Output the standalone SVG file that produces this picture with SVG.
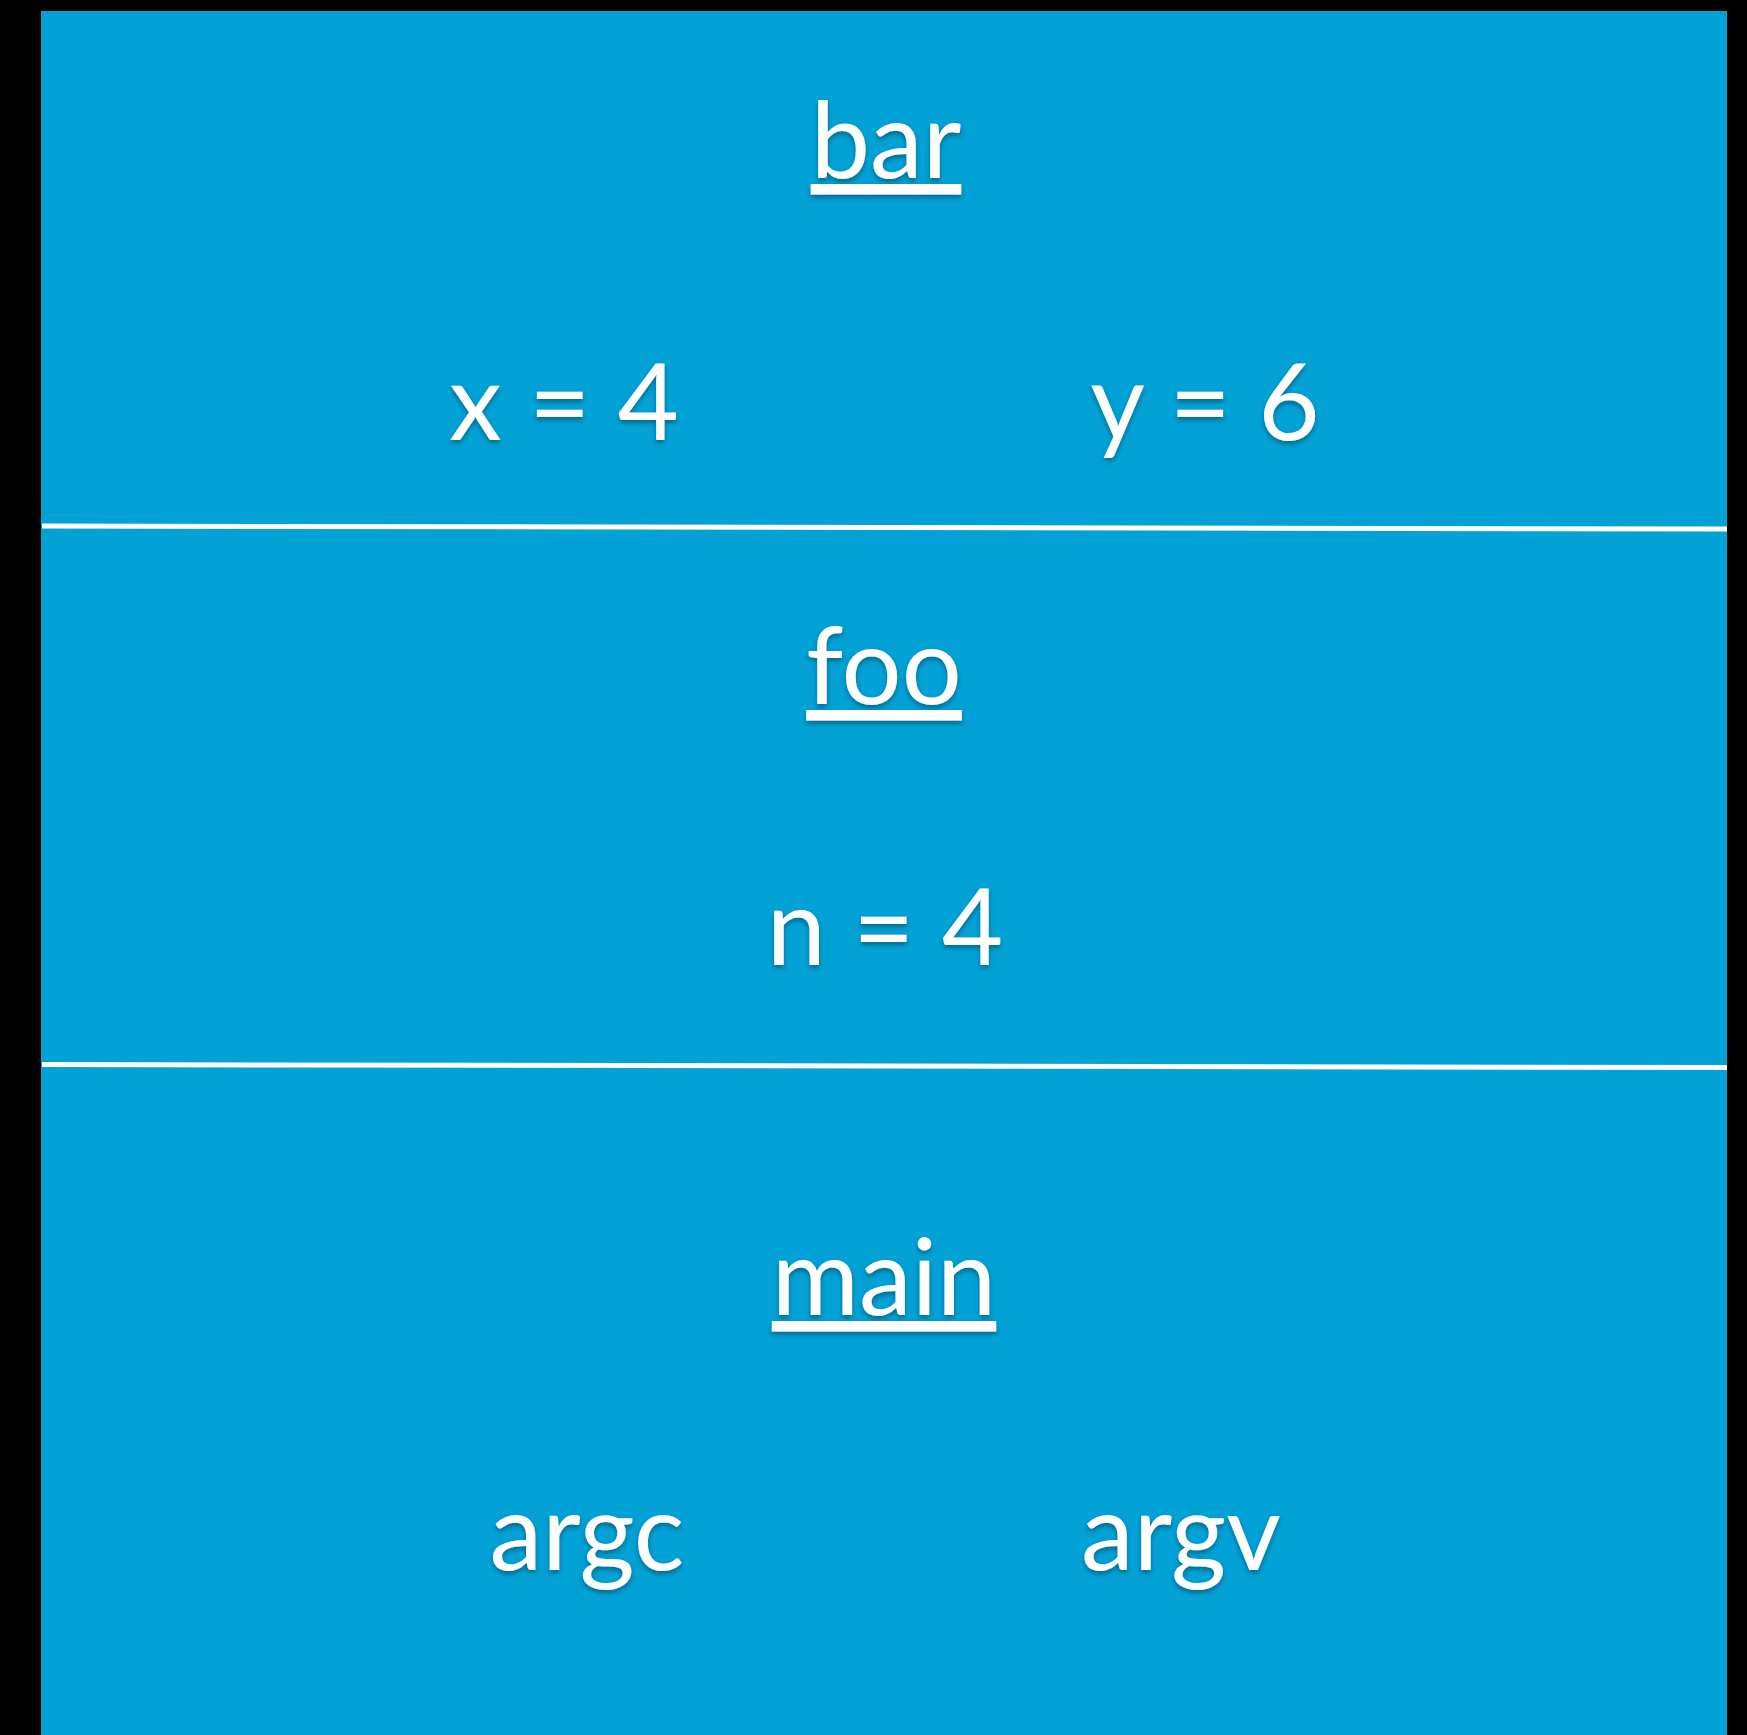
<svg xmlns="http://www.w3.org/2000/svg" width="1747" height="1735" viewBox="0 0 1747 1735">
<defs>
<style>
.t{font-family:"Lato","Open Sans","Liberation Sans",sans-serif;font-size:106px;fill:#ffffff;text-anchor:middle;filter:url(#sh)}
.u{text-decoration:underline}
.sep{stroke:#ffffff;stroke-width:5;fill:none}
</style>
<filter id="sh" x="-10%" y="-10%" width="120%" height="130%">
<feDropShadow dx="0" dy="3" stdDeviation="2.5" flood-color="#000000" flood-opacity="0.35"/>
</filter>
</defs>
<rect x="0" y="0" width="1747" height="1735" fill="#000000"/>
<rect x="41" y="11" width="1686" height="1724" fill="#02A1D6"/>
<g id="connectors">
<line class="sep" x1="42" y1="526" x2="1727" y2="529"/>
<line class="sep" x1="42" y1="1064.5" x2="1727" y2="1067.5"/>
</g>
<g id="bar">
<text class="t u" x="886" y="178">bar</text>
<text class="t" x="564" y="440">x = 4</text>
<text class="t" x="1205" y="440">y = 6</text>
</g>
<g id="foo">
<text class="t u" x="884" y="704">foo</text>
<text class="t" x="885" y="965">n = 4</text>
</g>
<g id="main">
<text class="t u" x="884" y="1315">main</text>
<text class="t" x="587" y="1570">argc</text>
<text class="t" x="1181" y="1570">argv</text>
</g>
</svg>
